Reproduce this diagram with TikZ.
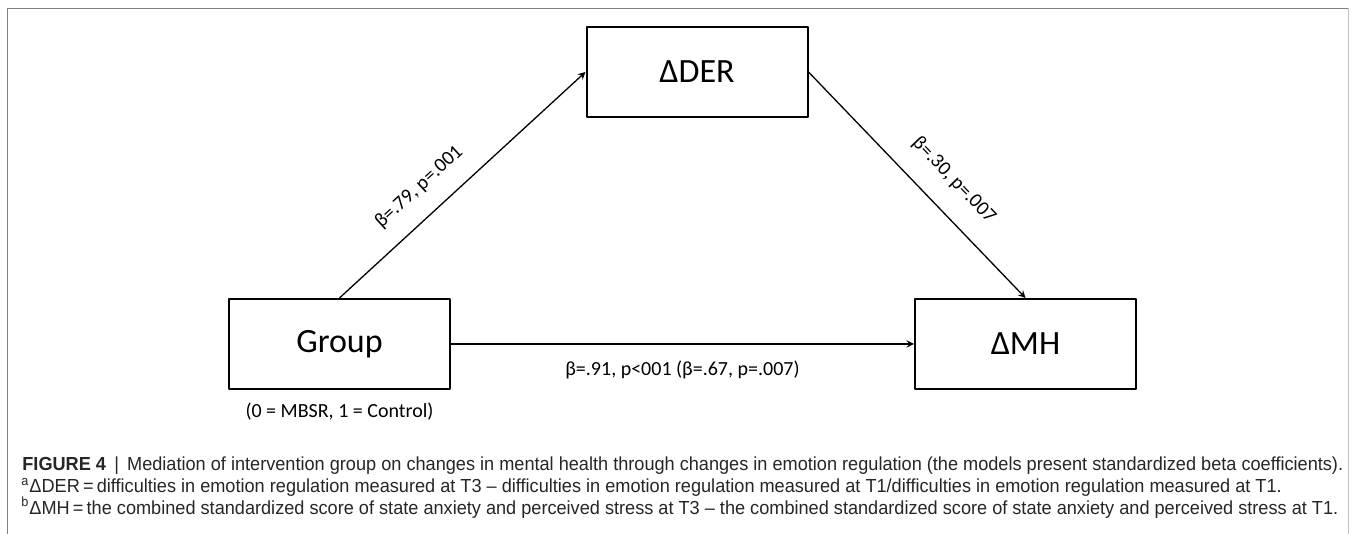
\documentclass[tikz,border=0pt]{standalone}
\usepackage{fontspec}
\setmainfont{Carlito}
\newfontfamily\capfont[FakeStretch=0.96]{Liberation Sans}
\usetikzlibrary{positioning}
\tikzset{
  varbox/.style={draw,line width=1pt,minimum width=110.5pt,minimum height=45pt,inner sep=0pt,font=\fontsize{17}{20}\selectfont},
  coef/.style={font=\fontsize{10}{12}\selectfont},
  path/.style={->,line width=0.65pt},
  capline/.style={anchor=base west,inner sep=0pt,font=\capfont\fontsize{9.45}{11}\selectfont,text=black!85}
}
\begin{document}
\begin{tikzpicture}[x=0.5pt,y=0.5pt,line join=round,>=stealth]
	\useasboundingbox (0,0) rectangle (1355,534);
	% frame of the figure panel
	\draw[black!50] (7,0)--(7,526)--(1348,526);
	\draw[black!25] (1348,526)--(1348,0);
	\node[varbox] (group) at (339.5,190) {Group};
	\node[varbox,right=231.5pt of group] (mh) {ΔMH};
	\node[varbox] (der) at (697,462) {ΔDER};
	\node[coef,below=3pt of group] (code) {(0 = MBSR, 1 = Control)};
	\draw[path] (group.north)--(der.west) node[coef,sloped,above=6pt,pos=0.4] (ca) {β=.79, p=.001};
	\draw[path] (der.east)--(mh.north) node[coef,sloped,above=7pt,pos=0.57] (cb) {β=.30, p=.007};
	\draw[path] (group.east)--(mh.west) node[coef,below=5pt,pos=0.5] (cc) {β=.91, p<001 (β=.67, p=.007)};
	% caption
	\node[capline] (cap1) at (22,63) {\textbf{FIGURE 4}\, | \,Mediation of intervention group on changes in mental health through changes in emotion regulation (the models present standardized beta coefficients).};
	\node[capline] (cap2) at (21,41.3) {\textsuperscript{a}ΔDER\,=\,difficulties in emotion regulation measured at T3 – difficulties in emotion regulation measured at T1/difficulties in emotion regulation measured at T1.};
	\node[capline] (cap3) at (21,19.6) {\textsuperscript{b}ΔMH\,=\,the combined standardized score of state anxiety and perceived stress at T3 – the combined standardized score of state anxiety and perceived stress at T1.};
\end{tikzpicture}
\end{document}
